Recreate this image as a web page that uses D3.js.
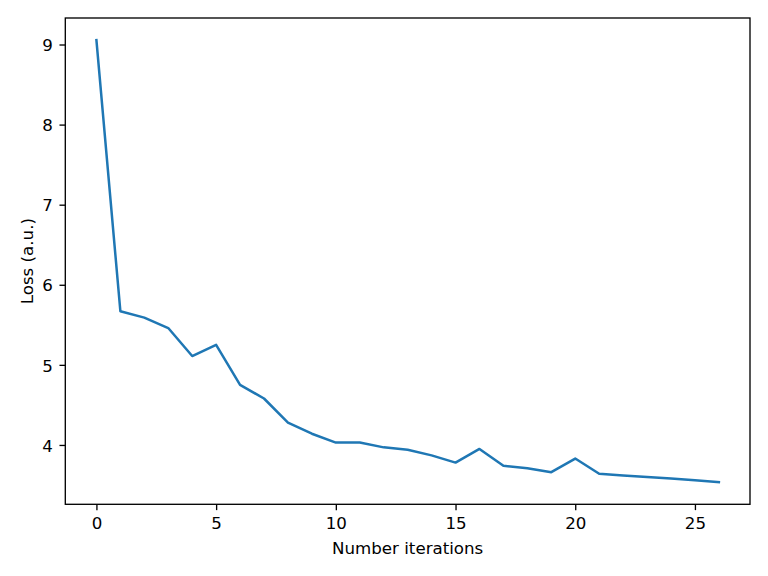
<!DOCTYPE html>
<html>
<head>
<meta charset="utf-8">
<script src="https://cdn.jsdelivr.net/npm/d3@7"></script>
<style>
  html, body { margin: 0; padding: 0; background: #fff; }
  svg { display: block; }
  text { font-family: "DejaVu Sans", sans-serif; fill: #000; }
</style>
</head>
<body>
<svg id="chart" width="768" height="576"></svg>
<script>
const iterations = [0,1,2,3,4,5,6,7,8,9,10,11,12,13,14,15,16,17,18,19,20,21,22,23,24,25,26];
const loss = [9.055,5.67,5.59,5.46,5.11,5.25,4.75,4.58,4.28,4.14,4.03,4.03,3.97,3.94,3.87,3.78,3.95,3.74,3.71,3.66,3.83,3.64,3.62,3.60,3.58,3.56,3.535];
const xTicks = [0,5,10,15,20,25];
const yTicks = [4,5,6,7,8,9];
const xLabel = "Number iterations";
const yLabel = "Loss (a.u.)";

const W = 768, H = 576;
const plot = { left: 65.3, right: 750, top: 18, bottom: 504.3 };
const fontPx = 16.67, tickLen = 5.83, tickPad = 5.83, spineW = 1.33;

const svg = d3.select("#chart");

const xMin = d3.min(iterations), xMax = d3.max(iterations);
const xm = (xMax - xMin) * 0.05;
const yMin = d3.min(loss), yMax = d3.max(loss);
const ym = (yMax - yMin) * 0.05;

const x = d3.scaleLinear().domain([xMin - xm, xMax + xm]).range([plot.left, plot.right]);
const y = d3.scaleLinear().domain([yMin - ym, yMax + ym]).range([plot.bottom, plot.top]);

// line
const line = d3.line().x((d, i) => x(iterations[i])).y(d => y(d));
svg.append("path")
  .datum(loss)
  .attr("d", line)
  .attr("fill", "none")
  .attr("stroke", "#1f77b4")
  .attr("stroke-width", 2.5)
  .attr("stroke-linejoin", "round")
  .attr("stroke-linecap", "square");

// axes
const xAxis = d3.axisBottom(x).tickValues(xTicks).tickFormat(d3.format("d"))
  .tickSize(tickLen).tickPadding(tickPad);
const gx = svg.append("g").attr("transform", `translate(0,${plot.bottom})`).call(xAxis);
gx.select(".domain").remove();
gx.selectAll(".tick line").attr("stroke", "#000").attr("stroke-width", spineW);
gx.selectAll(".tick text")
  .attr("font-size", fontPx)
  .attr("font-family", "DejaVu Sans")
  .attr("dy", null)
  .attr("y", 24.7)
  .attr("fill", "#000");

const yAxis = d3.axisLeft(y).tickValues(yTicks).tickFormat(d3.format("d"))
  .tickSize(tickLen).tickPadding(tickPad);
const gy = svg.append("g").attr("transform", `translate(${plot.left},0)`).call(yAxis);
gy.select(".domain").remove();
gy.selectAll(".tick line").attr("stroke", "#000").attr("stroke-width", spineW);
gy.selectAll(".tick text")
  .attr("font-size", fontPx)
  .attr("font-family", "DejaVu Sans")
  .attr("dy", null)
  .attr("y", 6.2)
  .attr("x", -(tickLen + tickPad) - 0.8)
  .attr("fill", "#000");

// spines
svg.append("rect")
  .attr("x", plot.left).attr("y", plot.top)
  .attr("width", plot.right - plot.left).attr("height", plot.bottom - plot.top)
  .attr("fill", "none").attr("stroke", "#000").attr("stroke-width", spineW);

// labels
svg.append("text")
  .attr("x", (plot.left + plot.right) / 2)
  .attr("y", 554)
  .attr("text-anchor", "middle")
  .attr("font-size", fontPx)
  .text(xLabel);

svg.append("text")
  .attr("transform", `translate(32.8,${(plot.top + plot.bottom) / 2}) rotate(-90)`)
  .attr("text-anchor", "middle")
  .attr("font-size", fontPx)
  .text(yLabel);
</script>
</body>
</html>
